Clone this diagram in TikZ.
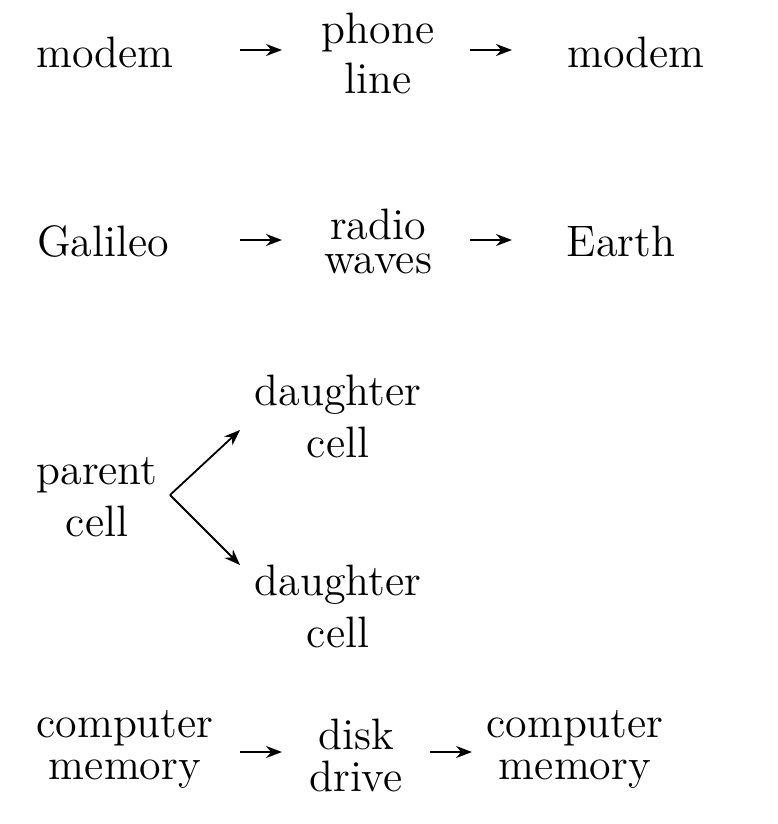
\documentclass[tikz,border=0pt]{standalone}
\usetikzlibrary{arrows.meta}
\tikzset{
  lbl/.style={align=center,inner sep=0pt,font=\fontsize{11}{12.5}\selectfont},
  tight/.style={lbl,font=\fontsize{11}{8.5}\selectfont},
  mid/.style={lbl,font=\fontsize{11}{10.5}\selectfont},
  arr/.style={-{Stealth[length=4pt,width=3pt]},line width=0.45pt}
}
\begin{document}
\begin{tikzpicture}[x=0.25pt,y=-0.25pt]
\useasboundingbox (0,0) rectangle (778,824);
% row 1
\node[lbl] (m1) at (105,52) {modem};
\node[lbl] (pl) at (378,53) {phone\\line};
\node[lbl] (m2) at (636,52) {modem};
\coordinate (a1) at (240,50); \coordinate (b1) at (282,50);
\coordinate (a2) at (470,50); \coordinate (b2) at (512,50);
\draw[arr] (a1) -- (b1); \draw[arr] (a2) -- (b2);
% row 2
\node[lbl] (g) at (103,241) {Galileo};
\node[tight] (rw) at (378,241) {radio\\waves};
\node[lbl] (e) at (621,241) {Earth};
\coordinate (c1) at (240,240); \coordinate (d1) at (282,240);
\coordinate (c2) at (470,240); \coordinate (d2) at (512,240);
\draw[arr] (c1) -- (d1); \draw[arr] (c2) -- (d2);
% row 3
\node[lbl,font=\fontsize{11}{13}\selectfont] (pc) at (97,497) {parent\\cell};
\node[lbl,font=\fontsize{11}{13}\selectfont] (dc1) at (338,416) {daughter\\cell};
\node[lbl,font=\fontsize{11}{13}\selectfont] (dc2) at (338,606) {daughter\\cell};
\coordinate (f) at (170,495);
\coordinate (t1) at (240,430); \coordinate (t2) at (240,565);
\draw[arr] (f) -- (t1); \draw[arr] (f) -- (t2);
% row 4
\node[mid] (cm1) at (125,749) {computer\\memory};
\node[mid] (dd) at (356,755) {disk\\drive};
\node[mid] (cm2) at (575,749) {computer\\memory};
\coordinate (h1) at (240,752); \coordinate (k1) at (282,752);
\coordinate (h2) at (430,752); \coordinate (k2) at (472,752);
\draw[arr] (h1) -- (k1); \draw[arr] (h2) -- (k2);
\end{tikzpicture}
\end{document}
